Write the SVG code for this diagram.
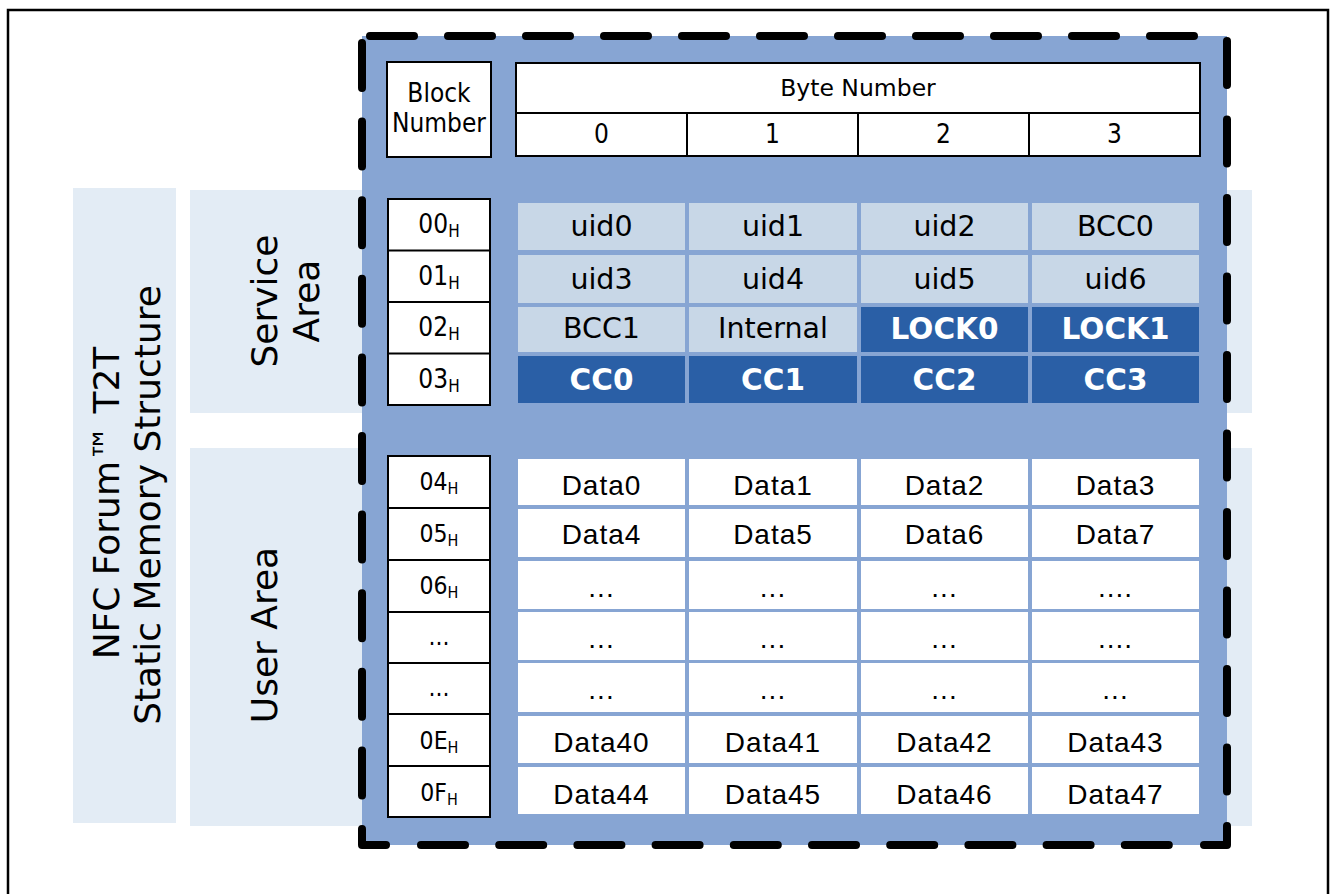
<svg xmlns="http://www.w3.org/2000/svg" width="1332" height="894" viewBox="0 0 1332 894">
<style>
.frame{fill:#fff;stroke:#000;stroke-width:2.5}
.lp{fill:#E3ECF5}
.panel{fill:#87A5D3}
.dash{fill:none;stroke:#000;stroke-width:8;stroke-linecap:round;stroke-linejoin:round}
.box{fill:#fff;stroke:#000;stroke-width:2}
.ln{stroke:#000;stroke-width:2}
.cl{fill:#C8D7E7}
.cd{fill:#2A5FA6}
.cw{fill:#fff}
.tn{font-family:"DejaVu Sans Condensed","DejaVu Sans",sans-serif;font-stretch:condensed;font-size:26px;text-anchor:middle;fill:#000}
.tu{font-family:"DejaVu Sans Condensed","DejaVu Sans",sans-serif;font-stretch:condensed;font-size:24.5px;text-anchor:middle;fill:#000}
.th{font-family:"DejaVu Sans",sans-serif;font-size:23.5px;text-anchor:middle;fill:#000}
.tv{font-family:"DejaVu Sans",sans-serif;font-size:28.5px;text-anchor:middle;fill:#000}
.tb{font-family:"DejaVu Sans",sans-serif;font-size:29.5px;font-weight:bold;text-anchor:middle;fill:#fff}
.ta{font-family:"Liberation Sans",Arial,sans-serif;font-size:28px;letter-spacing:1px;text-anchor:middle;fill:#000}
.big{font-family:"DejaVu Sans",sans-serif;font-size:36px;text-anchor:middle;fill:#000}
</style>
<rect class="frame" x="8" y="10" width="1320" height="900"/>

<g id="title-panel">
<rect class="lp" x="73" y="188" width="103" height="635"/>
<text class="big" transform="translate(119,503) rotate(-90)">NFC Forum™ T2T</text>
<text class="big" transform="translate(160,505) rotate(-90)">Static Memory Structure</text>
</g>

<g id="service-area">
<rect class="lp" x="190" y="190" width="1062" height="223"/>
<text class="big" transform="translate(277,301) rotate(-90)">Service</text>
<text class="big" transform="translate(319,301) rotate(-90)">Area</text>
</g>

<g id="user-area">
<rect class="lp" x="190" y="448" width="1062" height="378"/>
<text class="big" transform="translate(277,635) rotate(-90)">User Area</text>
</g>

<g id="memory-panel">
<rect class="panel" x="362" y="36" width="865" height="809"/>
<path class="dash" d="M370,36 H1200" stroke-dasharray="44 34"/>
<path class="dash" d="M1227,41 V845 H1204" stroke-dasharray="44 34.5"/>
<path class="dash" d="M421,845 H1172" stroke-dasharray="44 34.2"/>
<path class="dash" d="M362,43 V845 H386" stroke-dasharray="45 33.6"/>
</g>

<g id="header-block">
<rect class="box" x="387" y="62" width="104" height="95"/>
<text class="tn" x="439" y="102">Block</text>
<text class="tn" x="439" y="132">Number</text>
</g>

<g id="header-byte">
<rect class="box" x="516" y="63" width="684" height="93"/>
<line class="ln" x1="516" y1="113" x2="1200" y2="113"/>
<line class="ln" x1="687" y1="113" x2="687" y2="156"/>
<line class="ln" x1="858" y1="113" x2="858" y2="156"/>
<line class="ln" x1="1029" y1="113" x2="1029" y2="156"/>
<text class="th" x="858" y="96">Byte Number</text>
<text class="tn" x="601.5" y="143">0</text>
<text class="tn" x="772.5" y="143">1</text>
<text class="tn" x="943.5" y="143">2</text>
<text class="tn" x="1114.5" y="143">3</text>
</g>

<g id="service-blocks">
<rect class="box" x="388" y="199" width="102" height="206"/>
<line class="ln" x1="388" y1="250.5" x2="490" y2="250.5"/>
<line class="ln" x1="388" y1="302" x2="490" y2="302"/>
<line class="ln" x1="388" y1="353.5" x2="490" y2="353.5"/>
<text class="tn" x="439" y="233">00<tspan font-size="17" dy="4">H</tspan></text>
<text class="tn" x="439" y="284.5">01<tspan font-size="17" dy="4">H</tspan></text>
<text class="tn" x="439" y="336">02<tspan font-size="17" dy="4">H</tspan></text>
<text class="tn" x="439" y="387.5">03<tspan font-size="17" dy="4">H</tspan></text>
</g>

<g id="service-cells">
<rect class="cl" x="518" y="203" width="167" height="47"/>
<rect class="cl" x="689" y="203" width="168" height="47"/>
<rect class="cl" x="861" y="203" width="167" height="47"/>
<rect class="cl" x="1032" y="203" width="167" height="47"/>
<rect class="cl" x="518" y="255" width="167" height="48"/>
<rect class="cl" x="689" y="255" width="168" height="48"/>
<rect class="cl" x="861" y="255" width="167" height="48"/>
<rect class="cl" x="1032" y="255" width="167" height="48"/>
<rect class="cl" x="518" y="307" width="167" height="45"/>
<rect class="cl" x="689" y="307" width="168" height="45"/>
<rect class="cd" x="861" y="307" width="167" height="45"/>
<rect class="cd" x="1032" y="307" width="167" height="45"/>
<rect class="cd" x="518" y="356" width="167" height="47"/>
<rect class="cd" x="689" y="356" width="168" height="47"/>
<rect class="cd" x="861" y="356" width="167" height="47"/>
<rect class="cd" x="1032" y="356" width="167" height="47"/>
<text class="tv" x="601.5" y="236">uid0</text>
<text class="tv" x="773" y="236">uid1</text>
<text class="tv" x="944.5" y="236">uid2</text>
<text class="tv" x="1115.5" y="236">BCC0</text>
<text class="tv" x="601.5" y="289">uid3</text>
<text class="tv" x="773" y="289">uid4</text>
<text class="tv" x="944.5" y="289">uid5</text>
<text class="tv" x="1115.5" y="289">uid6</text>
<text class="tv" x="601.5" y="338">BCC1</text>
<text class="tv" x="773" y="338">Internal</text>
<text class="tb" x="944.5" y="339">LOCK0</text>
<text class="tb" x="1115.5" y="339">LOCK1</text>
<text class="tb" x="601.5" y="390">CC0</text>
<text class="tb" x="773" y="390">CC1</text>
<text class="tb" x="944.5" y="390">CC2</text>
<text class="tb" x="1115.5" y="390">CC3</text>
</g>

<g id="user-blocks">
<rect class="box" x="388" y="456" width="102" height="361"/>
<line class="ln" x1="388" y1="508" x2="490" y2="508"/>
<line class="ln" x1="388" y1="560" x2="490" y2="560"/>
<line class="ln" x1="388" y1="612" x2="490" y2="612"/>
<line class="ln" x1="388" y1="663" x2="490" y2="663"/>
<line class="ln" x1="388" y1="714" x2="490" y2="714"/>
<line class="ln" x1="388" y1="766" x2="490" y2="766"/>
<text class="tu" x="439" y="490">04<tspan font-size="16" dy="4">H</tspan></text>
<text class="tu" x="439" y="542">05<tspan font-size="16" dy="4">H</tspan></text>
<text class="tu" x="439" y="594">06<tspan font-size="16" dy="4">H</tspan></text>
<text class="tu" x="439" y="645">...</text>
<text class="tu" x="439" y="696">...</text>
<text class="tu" x="439" y="749">0E<tspan font-size="16" dy="4">H</tspan></text>
<text class="tu" x="439" y="801">0F<tspan font-size="16" dy="4">H</tspan></text>
</g>

<g id="user-cells">
<rect class="cw" x="518" y="459" width="167" height="46"/>
<rect class="cw" x="689" y="459" width="168" height="46"/>
<rect class="cw" x="861" y="459" width="167" height="46"/>
<rect class="cw" x="1032" y="459" width="167" height="46"/>
<rect class="cw" x="518" y="509" width="167" height="48"/>
<rect class="cw" x="689" y="509" width="168" height="48"/>
<rect class="cw" x="861" y="509" width="167" height="48"/>
<rect class="cw" x="1032" y="509" width="167" height="48"/>
<rect class="cw" x="518" y="561" width="167" height="48"/>
<rect class="cw" x="689" y="561" width="168" height="48"/>
<rect class="cw" x="861" y="561" width="167" height="48"/>
<rect class="cw" x="1032" y="561" width="167" height="48"/>
<rect class="cw" x="518" y="612" width="167" height="48"/>
<rect class="cw" x="689" y="612" width="168" height="48"/>
<rect class="cw" x="861" y="612" width="167" height="48"/>
<rect class="cw" x="1032" y="612" width="167" height="48"/>
<rect class="cw" x="518" y="663" width="167" height="49"/>
<rect class="cw" x="689" y="663" width="168" height="49"/>
<rect class="cw" x="861" y="663" width="167" height="49"/>
<rect class="cw" x="1032" y="663" width="167" height="49"/>
<rect class="cw" x="518" y="716" width="167" height="47"/>
<rect class="cw" x="689" y="716" width="168" height="47"/>
<rect class="cw" x="861" y="716" width="167" height="47"/>
<rect class="cw" x="1032" y="716" width="167" height="47"/>
<rect class="cw" x="518" y="767" width="167" height="47"/>
<rect class="cw" x="689" y="767" width="168" height="47"/>
<rect class="cw" x="861" y="767" width="167" height="47"/>
<rect class="cw" x="1032" y="767" width="167" height="47"/>
<text class="ta" x="601.5" y="495">Data0</text>
<text class="ta" x="773" y="495">Data1</text>
<text class="ta" x="944.5" y="495">Data2</text>
<text class="ta" x="1115.5" y="495">Data3</text>
<text class="ta" x="601.5" y="544">Data4</text>
<text class="ta" x="773" y="544">Data5</text>
<text class="ta" x="944.5" y="544">Data6</text>
<text class="ta" x="1115.5" y="544">Data7</text>
<text class="ta" x="601.5" y="597">...</text>
<text class="ta" x="773" y="597">...</text>
<text class="ta" x="944.5" y="597">...</text>
<text class="ta" x="1115.5" y="597">....</text>
<text class="ta" x="601.5" y="648">...</text>
<text class="ta" x="773" y="648">...</text>
<text class="ta" x="944.5" y="648">...</text>
<text class="ta" x="1115.5" y="648">....</text>
<text class="ta" x="601.5" y="699">...</text>
<text class="ta" x="773" y="699">...</text>
<text class="ta" x="944.5" y="699">...</text>
<text class="ta" x="1115.5" y="699">...</text>
<text class="ta" x="601.5" y="752">Data40</text>
<text class="ta" x="773" y="752">Data41</text>
<text class="ta" x="944.5" y="752">Data42</text>
<text class="ta" x="1115.5" y="752">Data43</text>
<text class="ta" x="601.5" y="804">Data44</text>
<text class="ta" x="773" y="804">Data45</text>
<text class="ta" x="944.5" y="804">Data46</text>
<text class="ta" x="1115.5" y="804">Data47</text>
</g>
</svg>
